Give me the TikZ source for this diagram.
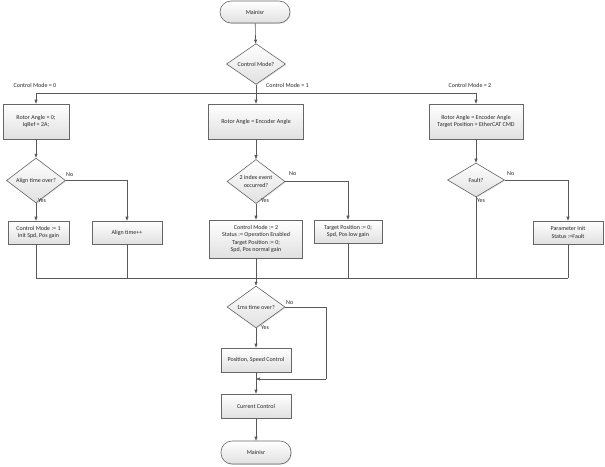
\documentclass[tikz,border=0pt]{standalone}
\usepackage{fontspec}
\setmainfont{Carlito}
\usetikzlibrary{shapes.geometric,arrows.meta,shadows}
\begin{document}
\begin{tikzpicture}[x=1pt,y=-1pt,
  every node/.style={font=\fontsize{6}{7.2}\selectfont, text=black!85},
  boxbase/.style={draw=black!60, line width=0.6pt, top color=white, bottom color=black!12,
    drop shadow={opacity=0.25, shadow xshift=0.8pt, shadow yshift=-0.8pt}, align=center, inner sep=1pt},
  procbox/.style={boxbase, rectangle},
  termbox/.style={boxbase, rectangle, rounded corners=11pt},
  decbox/.style={boxbase, diamond, inner sep=0pt},
  lbl/.style={inner sep=0pt},
  conn/.style={draw=black!65, line width=0.6pt},
  arr/.style={conn, -{Triangle[length=4pt,width=3pt]}}
]
\useasboundingbox (0,0) rectangle (605,466);

% nodes
\node[termbox, minimum width=70pt, minimum height=22pt] (m1) at (255,12) {Mainisr};
\node[decbox, minimum width=59pt, minimum height=34pt] (d0) at (256,64) {Control Mode?};

\node[procbox, minimum width=66pt, minimum height=35pt] (b1) at (36,121.5) {Rotor Angle = 0;\\IqRef = 2A;};
\node[procbox, minimum width=95pt, minimum height=35pt] (b2) at (256,121.5) {Rotor Angle = Encoder Angle};
\node[procbox, minimum width=94pt, minimum height=35pt] (b3) at (476,121.5) {Rotor Angle = Encoder Angle\\Target Position = EtherCAT CMD};

\node[decbox, minimum width=59pt, minimum height=35pt] (dA) at (36,180.5) {Align time over?};
\node[procbox, minimum width=61pt, minimum height=23pt] (bA1) at (38.5,232.5) {Control Mode := 1\\Init Spd, Pos gain};
\node[procbox, minimum width=70pt, minimum height=23pt] (bA2) at (127,232.5) {Align time++};

\node[decbox, minimum width=58pt, minimum height=37pt] (dB) at (256,181.5) {2 index event\\occurred?};
\node[procbox, minimum width=93pt, minimum height=38pt] (bB1) at (256,239) {Control Mode := 2\\Status := Operation Enabled\\Target Position := 0;\\Spd, Pos normal gain};
\node[procbox, minimum width=68pt, minimum height=23pt] (bB2) at (348,231.5) {Target Position := 0;\\Spd, Pos low gain};

\node[decbox, minimum width=57pt, minimum height=34pt] (dC) at (476,180) {Fault?};
\node[procbox, minimum width=70pt, minimum height=23pt] (bC) at (568,232.5) {Parameter Init\\Status :=Fault};

\node[decbox, minimum width=58pt, minimum height=34pt] (dD) at (256,307) {1ms time over?};
\node[procbox, minimum width=70pt, minimum height=24pt] (bD) at (256,360) {Position, Speed Control};
\node[procbox, minimum width=70pt, minimum height=24pt] (bE) at (256,406) {Current Control};
\node[termbox, minimum width=70pt, minimum height=23pt] (m2) at (256,452.5) {Mainisr};

% labels
\node[lbl] (l0) at (35,85) {Control Mode = 0};
\node[lbl, anchor=west] (l1) at (266,85) {Control Mode = 1};
\node[lbl] (l2) at (470,85) {Control Mode = 2};
\node[lbl, anchor=west] (nA) at (66,175) {No};
\node[lbl, anchor=west] (yA) at (38,201) {Yes};
\node[lbl, anchor=west] (nB) at (289,174) {No};
\node[lbl, anchor=west] (yB) at (261,201) {Yes};
\node[lbl, anchor=west] (nC) at (507,174) {No};
\node[lbl, anchor=west] (yC) at (477,201) {Yes};
\node[lbl, anchor=west] (nD) at (286,303) {No};
\node[lbl, anchor=west] (yD) at (261,328) {Yes};

% junction coordinates
\coordinate (split) at (256,93);
\coordinate (mergeL) at (36,278);
\coordinate (mergeR) at (568,278);
\coordinate (mergeC) at (256,278);
\coordinate (loopA) at (326,307);
\coordinate (loopB) at (326,379);
\coordinate (loopEnd) at (256,379);

% connectors
\draw[arr] (m1) -- (d0);
\draw[arr] (d0) -- (b2);
\draw[arr] (split) -| (b1);
\draw[arr] (split) -| (b3);

\draw[arr] (b1) -- (dA);
\draw[arr] (b2) -- (dB);
\draw[arr] (b3) -- (dC);

\draw[arr] (dA.south) -- (dA.south |- bA1.north);
\draw[arr] (dA.east) -| (bA2);
\draw[arr] (dB) -- (bB1);
\draw[arr] (dB.east) -| (bB2);
\draw[arr] (dC.east) -| (bC);

\draw[conn] (dA.south |- bA1.south) -- (mergeL) -- (mergeR);
\draw[conn] (bA2) -- (bA2 |- mergeL);
\draw[conn] (bB2) -- (bB2 |- mergeL);
\draw[conn] (dC) -- (dC |- mergeL);
\draw[conn] (bC) -- (mergeR);
\draw[arr] (bB1) -- (dD);

\draw[arr] (dD) -- (bD);
\draw[conn] (dD.east) -- (loopA) -- (loopB);
\draw[arr] (loopB) -- (loopEnd);
\draw[arr] (bD) -- (bE);
\draw[arr] (bE) -- (m2);
\end{tikzpicture}
\end{document}
